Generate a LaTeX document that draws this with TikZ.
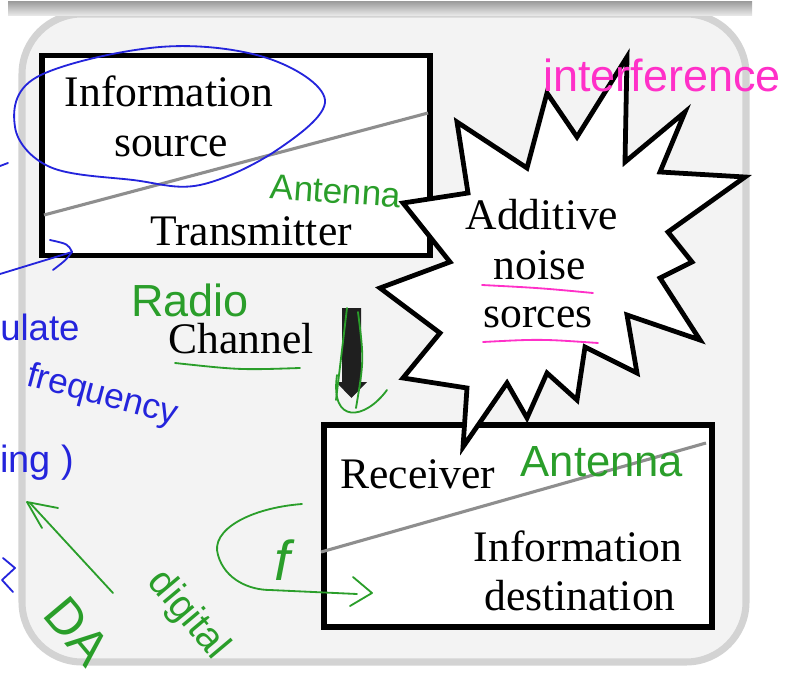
\documentclass[tikz,border=0pt]{standalone}
\usepackage{fontspec}
\setmainfont{Liberation Serif}
\newfontfamily\handfont{Liberation Sans}
\usetikzlibrary{positioning}

\definecolor{panelfill}{HTML}{F3F3F3}
\definecolor{paneledge}{HTML}{D3D3D3}
\definecolor{splitgray}{HTML}{8E8E8E}
\definecolor{penblue}{HTML}{2424DC}
\definecolor{pengreen}{HTML}{2A9E2A}
\definecolor{penpink}{HTML}{FF30C8}

\begin{document}
\begin{tikzpicture}[
    x=0.025cm, y=-0.025cm,
    box/.style={draw=black, line width=4.2pt, fill=white, inner sep=0pt},
    lbl/.style={font=\fontsize{31}{35}\selectfont, inner sep=0pt, anchor=base},
    split/.style={splitgray, line width=2.2pt},
    burst/.style={draw=black, line width=3.4pt, fill=white, line join=miter},
    bluepen/.style={penblue, line width=1.3pt, line cap=round, line join=round},
    greenpen/.style={pengreen, line width=1.3pt, line cap=round, line join=round},
    pinkpen/.style={penpink, line width=1.3pt, line cap=round, line join=round},
    hand/.style={font=\handfont\fontsize{#1}{#1}\selectfont, inner sep=0pt, anchor=base},
]
\useasboundingbox (0,0) rectangle (809,676);

% -- slide panel
\draw[paneledge, fill=panelfill, line width=5pt, rounded corners=1.5cm] (22,14) rectangle (746,662);
\shade[top color=gray!75, bottom color=gray!15] (8,2) rectangle (752,16);

% -- the two blocks
\node[box, minimum width=9.71cm, minimum height=5cm] (tx) at (236,155.5) {};
\node[box, minimum width=9.7cm, minimum height=5.05cm] (rx) at (518,526) {};
\draw[split] (44,215) -- (428,113);
\draw[split] (321,552) -- (706,443);

\node[lbl] (srcA) at (169,107) {Information};
\node[lbl] (srcB) at (171,157) {source};
\node[lbl] (txl) at (251,245) {Transmitter};
\node[lbl] (rxl) at (418,488) {Receiver};
\node[lbl] (dstA) at (578,561) {Information};
\node[lbl] (dstB) at (580,610) {destination};
\node[lbl] (chan) at (241,353) {Channel};

% -- noise burst
\draw[burst] (627,57) -- (625,162) -- (685,112) -- (660,172) -- (745,177)
  -- (668,232) -- (692,262) -- (660,278) -- (700,340) -- (627,315)
  -- (637,373) -- (585,347) -- (577,400) -- (547,373) -- (527,418)
  -- (507,383) -- (463,447) -- (467,388) -- (403,378) -- (440,333)
  -- (380,288) -- (450,262) -- (403,203) -- (468,193) -- (457,122)
  -- (527,168) -- (547,93) -- (577,137) -- cycle;
\node[lbl] (nsA) at (542,230) {Additive};
\node[lbl] (nsB) at (540,279) {noise};
\node[lbl] (nsC) at (538,327) {sorces};

% -- channel arrow
\fill[black!88] (342,308) -- (361,308) -- (361,382) -- (367,382) -- (351.5,398)
  -- (336,382) -- (342,382) -- cycle;

% -- pen notes, blue
\draw[bluepen] plot[smooth cycle, tension=0.6] coordinates {(15,127) (37,77) (160,47) (267,58) (325,100) (277,150) (200,185) (133,180) (50,167)};
\draw[bluepen] (0,274) -- (72,252);
\draw[bluepen] (50,240) .. controls (68,244) .. (72,252) .. controls (66,260) .. (53,270);
\draw[bluepen] (0,166) -- (8,163);
\draw[bluepen] (3,558) -- (15,568) -- (2,580) -- (13,592);
\node[hand=26, text=penblue, anchor=base west] (modn) at (0,340) {ulate};
\node[hand=25, text=penblue, rotate=-15] (freq) at (100,405) {frequency};
\node[hand=27, text=penblue, anchor=base west] (lng) at (0,472) {ing )};

% -- pen notes, green
\node[hand=25, text=pengreen, rotate=-4] (antA) at (335,203) {Antenna};
\node[hand=32, text=pengreen] (radio) at (190,316) {Radio};
\draw[greenpen] (175,363) .. controls (240,370) .. (300,368);
\draw[greenpen] (347,308) .. controls (342,350) .. (336,400);
\draw[greenpen] (358,312) .. controls (364,360) .. (356,408);
\draw[greenpen] (337,375) .. controls (330,425) and (365,420) .. (387,390);
\node[hand=31, text=pengreen] (antB) at (602,476) {Antenna};
\draw[greenpen] (302,504) .. controls (250,508) and (210,530) .. (218,555)
  .. controls (225,580) and (250,590) .. (270,590) -- (357,594);
\draw[greenpen] (353,577) -- (372,593) -- (350,606);
\node[hand=40, text=pengreen] (fq) at (282,580) {\itshape f};
\draw[greenpen] (113,593) -- (30,503);
\draw[greenpen] (58,508) -- (27,502) -- (42,528);
\node[hand=28, text=pengreen, rotate=-50] (digi) at (180,622) {digital};
\node[hand=36, text=pengreen, rotate=-50] (dac) at (64,642) {DA};

% -- pen notes, pink
\node[hand=32, text=penpink] (intf) at (662,92) {interference};
\draw[pinkpen] (482,285) .. controls (540,288) .. (593,293);
\draw[pinkpen] (483,342) .. controls (540,339) .. (598,343);

\end{tikzpicture}
\end{document}
